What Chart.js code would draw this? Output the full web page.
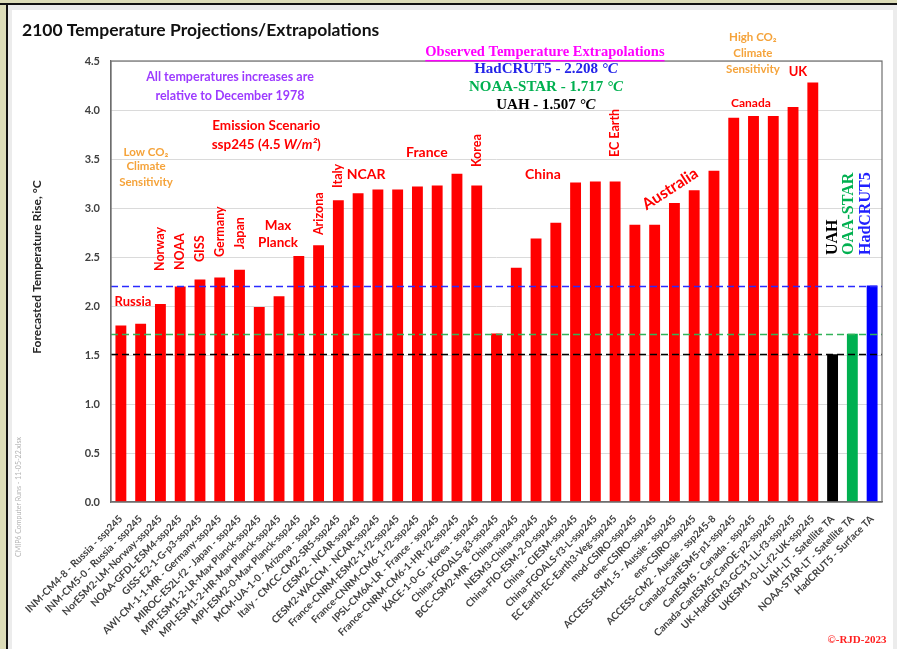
<!DOCTYPE html>
<html>
<head>
<meta charset="utf-8">
<title>2100 Temperature Projections/Extrapolations</title>
<script src="https://cdn.jsdelivr.net/npm/chart.js@4.4.1/dist/chart.umd.min.js"></script>
<style>
  html, body { margin: 0; padding: 0; background: #dcdcb8; }
  canvas { display: block; }
</style>
</head>
<body>
<canvas id="chartProyecciones" width="897" height="649"></canvas>
<script>
// model runs (CMIP6, ssp245) - 2100 rise in C
const modelLabels = [
  'INM-CM4-8 - Russia - ssp245', 'INM-CM5-0 - Russia - ssp245', 'NorESM2-LM-Norway-ssp245',
  'NOAA-GFDL-ESM4-ssp245', 'GISS-E2-1-G-p3-ssp245', 'AWI-CM-1-1-MR - Germany-ssp245',
  'MIROC-ES2L-f2 - Japan - ssp245', 'MPI-ESM1-2-LR-Max Planck-ssp245', 'MPI-ESM1-2-HR-Max Planck-ssp245',
  'MPI-ESM2-0-Max Planck-ssp245', 'MCM-UA-1-0 - Arizona - ssp245', 'Italy - CMCC-CM2-SR5-ssp245',
  'CESM2 - NCAR-ssp245', 'CESM2-WACCM - NCAR-ssp245', 'France-CNRM-ESM2-1-f2-ssp245',
  'France-CNRM-CM6-1-f2-ssp245', 'IPSL-CM6A-LR - France - ssp245', 'France-CNRM-CM6-1-HR-f2-ssp245',
  'KACE-1-0-G - Korea - ssp245', 'China-FGOALS-g3-ssp245', 'BCC-CSM2-MR - China-ssp245',
  'NESM3-China-ssp245', 'China-FIO-ESM-2-0-ssp245', 'China - CIESM-ssp245',
  'China-FGOALS-f3-L-ssp245', 'EC Earth-EC-Earth3-Veg-ssp245', 'mod-CSIRO-ssp245',
  'one-CSIRO-ssp245', 'ACCESS-ESM1-5 - Aussie - ssp245', 'ens-CSIRO-ssp245',
  'ACCESS-CM2 - Aussie - ssp245-8', 'Canada-CanESM5-p1-ssp245', 'CanESM5 - Canada - ssp245',
  'Canada-CanESM5-CanOE-p2-ssp245', 'UK-HadGEM3-GC31-LL-f3-ssp245', 'UKESM1-0-LL-f2-UK-ssp245'
];
const modelValues = [
  1.80, 1.82, 2.02, 2.20, 2.27, 2.29, 2.37, 1.99, 2.10, 2.51, 2.62, 3.08,
  3.15, 3.19, 3.19, 3.22, 3.23, 3.35, 3.23, 1.72, 2.39, 2.69, 2.85, 3.26,
  3.27, 3.27, 2.83, 2.83, 3.05, 3.18, 3.38, 3.92, 3.94, 3.94, 4.03, 4.28
];

// observed extrapolations
const observedLabels = ['UAH-LT - Satellite TA', 'NOAA-STAR-LT - Satellite TA', 'HadCRUT5 - Surface TA'];
const observedValues = [1.507, 1.717, 2.208];
const observedColors = ['#000000', '#00b050', '#0000ff'];
const dashColors = ['#000000', '#33b35a', '#2a2aff'];

const yMax = 4.5;
const yStep = 0.5;

const SANS = 'Lato, "Open Sans", sans-serif';
const SERIF = '"Liberation Serif", "DejaVu Serif", serif';
const RED = '#ff0000';
const ORANGE = '#f5a33a';
const PURPLE = '#9d3bff';

// text notes placed in data units: i = category index, v = value
const notes = [
  { t: 'All temperatures increases are', i: 5.52, v: 4.337, c: PURPLE, s: 12.5 },
  { t: 'relative to December 1978', i: 5.52, v: 4.143, c: PURPLE, s: 12.5 },
  { t: 'Emission Scenario', i: 7.35, v: 3.837, c: RED, s: 13.5 },
  { t: 'ssp245 (4.5 |W/m²|)', i: 7.35, v: 3.643, c: RED, s: 13.5 },
  { t: 'Low CO₂', i: 1.27, v: 3.571, c: ORANGE, s: 11.5 },
  { t: 'Climate', i: 1.27, v: 3.429, c: ORANGE, s: 11.5 },
  { t: 'Sensitivity', i: 1.27, v: 3.265, c: ORANGE, s: 11.5 },
  { t: 'Russia', i: 0.61, v: 2.04, c: RED, s: 13 },
  { t: 'Norway', i: 2, v: 2.357, c: RED, s: 12.5, rot: true },
  { t: 'NOAA', i: 3, v: 2.367, c: RED, s: 12.5, rot: true },
  { t: 'GISS', i: 4, v: 2.449, c: RED, s: 12.5, rot: true },
  { t: 'Germany', i: 5, v: 2.5, c: RED, s: 12.5, rot: true },
  { t: 'Japan', i: 6, v: 2.58, c: RED, s: 12.5, rot: true },
  { t: 'Max', i: 7.95, v: 2.816, c: RED, s: 13.5 },
  { t: 'Planck', i: 7.95, v: 2.643, c: RED, s: 13.5 },
  { t: 'Arizona', i: 10, v: 2.724, c: RED, s: 12.5, rot: true },
  { t: 'Italy', i: 11, v: 3.204, c: RED, s: 12.5, rot: true },
  { t: 'NCAR', i: 12.4, v: 3.347, c: RED, s: 14 },
  { t: 'France', i: 15.48, v: 3.571, c: RED, s: 14 },
  { t: 'Korea', i: 18, v: 3.418, c: RED, s: 12.5, rot: true },
  { t: 'China', i: 21.35, v: 3.347, c: RED, s: 14 },
  { t: 'EC Earth', i: 25, v: 3.52, c: RED, s: 12.5, rot: true },
  { t: 'Australia', i: 27.78, v: 3.194, c: RED, s: 16, angle: -33 },
  { t: 'Canada', i: 31.87, v: 4.071, c: RED, s: 12 },
  { t: 'UK', i: 34.25, v: 4.388, c: RED, s: 13 },
  { t: 'High CO₂', i: 31.97, v: 4.745, c: ORANGE, s: 11.5 },
  { t: 'Climate', i: 31.97, v: 4.582, c: ORANGE, s: 11.5 },
  { t: 'Sensitivity', i: 31.97, v: 4.418, c: ORANGE, s: 11.5 },
  { t: 'Observed Temperature Extrapolations', i: 21.45, v: 4.592, c: '#ff00ff', s: 14.5, f: SERIF, u: true },
  { t: 'HadCRUT5 - ' + observedValues[2].toFixed(3) + ' |°C|', i: 21.5, v: 4.418, c: '#2424e8', s: 15, f: SERIF },
  { t: 'NOAA-STAR - ' + observedValues[1].toFixed(3) + ' |°C|', i: 21.5, v: 4.235, c: '#00b050', s: 15, f: SERIF },
  { t: 'UAH - ' + observedValues[0].toFixed(3) + ' |°C|', i: 21.5, v: 4.051, c: '#000000', s: 15, f: SERIF },
  { t: 'UAH', i: 36, v: 2.52, c: '#000000', s: 16, f: SERIF, rot: true },
  { t: 'OAA-STAR', i: 36.8, v: 2.52, c: '#00b050', s: 16, f: SERIF, rot: true },
  { t: 'HadCRUT5', i: 37.7, v: 2.52, c: '#2020ff', s: 16, f: SERIF, rot: true }
];

const allLabels = modelLabels.concat(observedLabels);
const allValues = modelValues.concat(observedValues);
const barColors = modelValues.map(() => RED).concat(observedColors);

// draws "a|b|c" with odd segments in italics
function richText(ctx, str, x, y, size, family, align) {
  const parts = str.split('|');
  const fonts = parts.map((p, k) => (k % 2 ? 'italic ' : '') + 'bold ' + size + 'px ' + family);
  let w = 0;
  parts.forEach((p, k) => { ctx.font = fonts[k]; w += ctx.measureText(p).width; });
  let cx = align === 'center' ? x - w / 2 : x;
  ctx.textAlign = 'left';
  parts.forEach((p, k) => {
    ctx.font = fonts[k];
    ctx.fillText(p, cx, y);
    cx += ctx.measureText(p).width;
  });
  return w;
}

const framePlugin = {
  id: 'frame',
  beforeDraw(chart) {
    const c = chart.ctx, W = chart.width, H = chart.height;
    c.save();
    c.fillStyle = '#dcdcb8';
    c.fillRect(0, 0, W, H);
    c.fillStyle = '#111';
    c.fillRect(0, 3, W, 2);
    c.fillRect(6, 3, 2, H);
    c.fillStyle = '#ececec';
    c.fillRect(8, 5, W - 8, H);
    c.fillStyle = '#ffffff';
    c.fillRect(12, 10, W - 16, H);
    c.restore();
  }
};

const refLinesPlugin = {
  id: 'refLines',
  afterDatasetsDraw(chart) {
    const c = chart.ctx, a = chart.chartArea, y = chart.scales.y;
    c.save();
    c.lineWidth = 1.6;
    c.setLineDash([7, 4]);
    observedValues.forEach((v, k) => {
      const py = Math.round(y.getPixelForValue(v)) + 0.5;
      c.strokeStyle = dashColors[k];
      c.beginPath();
      c.moveTo(a.left, py);
      c.lineTo(a.right, py);
      c.stroke();
    });
    c.restore();
  }
};

const notesPlugin = {
  id: 'notes',
  afterDraw(chart) {
    const c = chart.ctx, a = chart.chartArea;
    const xs = chart.scales.x, ys = chart.scales.y;
    c.save();
    // box around the plot
    c.strokeStyle = '#6e6e6e';
    c.lineWidth = 1.2;
    c.strokeRect(a.left, a.top, a.right - a.left, a.bottom - a.top);

    c.textBaseline = 'middle';
    notes.forEach(n => {
      const px = xs.getPixelForValue(n.i);
      const py = ys.getPixelForValue(n.v);
      const fam = n.f || SANS;
      c.fillStyle = n.c;
      c.save();
      c.translate(px, py);
      if (n.rot) {
        c.rotate(-Math.PI / 2);
        richText(c, n.t, 0, 0, n.s, fam, 'left');
      } else {
        if (n.angle) c.rotate(n.angle * Math.PI / 180);
        const w = richText(c, n.t, 0, 0, n.s, fam, 'center');
        if (n.u) {
          c.fillRect(-w / 2, n.s * 0.55, w, 1.5);
        }
      }
      c.restore();
    });

    // title
    c.fillStyle = '#111';
    c.font = 'bold 17.5px ' + SANS;
    c.textAlign = 'left';
    c.fillText('2100 Temperature Projections/Extrapolations', 22, 30);

    // y axis title
    c.save();
    c.translate(37.5, 267);
    c.rotate(-Math.PI / 2);
    c.textAlign = 'center';
    c.font = 'bold 12px ' + SANS;
    c.fillStyle = '#262626';
    c.fillText('Forecasted Temperature Rise, °C', 0, 0);
    c.restore();

    // file note
    c.save();
    c.translate(19, 497);
    c.rotate(-Math.PI / 2);
    c.textAlign = 'center';
    c.font = '7px ' + SANS;
    c.fillStyle = '#b4b4b4';
    c.fillText('CMIP6 Computer Runs - 11-05-22.xlsx', 0, 0);
    c.restore();

    c.fillStyle = '#ff2020';
    c.font = 'bold 11px ' + SERIF;
    c.textAlign = 'center';
    c.fillText('©-RJD-2023', 857, 640);
    c.restore();
  }
};

const ctx = document.getElementById('chartProyecciones');
new Chart(ctx, {
  type: 'bar',
  data: {
    labels: allLabels,
    datasets: [{
      label: '2100 rise',
      data: allValues,
      backgroundColor: barColors,
      borderWidth: 0,
      categoryPercentage: 1.0,
      barPercentage: 0.55
    }]
  },
  options: {
    responsive: false,
    animation: false,
    devicePixelRatio: 1,
    layout: { padding: { left: 20, right: 15, top: 61, bottom: 0 } },
    plugins: {
      legend: { display: false },
      tooltip: { enabled: false }
    },
    scales: {
      x: {
        grid: { display: false },
        border: { display: true, color: '#6e6e6e', width: 1.2 },
        ticks: {
          autoSkip: false,
          maxRotation: 45,
          minRotation: 45,
          padding: 3,
          color: '#404040',
          font: { family: SANS, size: 10, weight: 'bold' }
        },
        afterFit(scale) { scale.height = 147; }
      },
      y: {
        min: 0,
        max: yMax,
        grid: { color: '#dadada', drawTicks: false },
        border: { display: true, color: '#6e6e6e', width: 1.2 },
        ticks: {
          stepSize: yStep,
          padding: 11,
          color: '#404040',
          font: { family: SANS, size: 11, weight: 'bold' },
          callback: v => v.toFixed(1)
        },
        afterFit(scale) { scale.width = 91; }
      }
    }
  },
  plugins: [framePlugin, refLinesPlugin, notesPlugin]
});
</script>
</body>
</html>
